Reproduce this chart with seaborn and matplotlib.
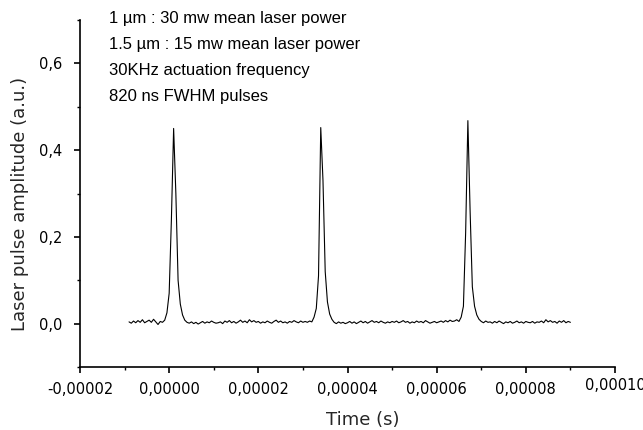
import numpy as np
import pandas as pd
import matplotlib
matplotlib.use("Agg")
import matplotlib.pyplot as plt
import matplotlib.transforms as mtransforms
from matplotlib.ticker import FuncFormatter, MultipleLocator
import seaborn as sns

# Sampling grid of the oscilloscope trace (microseconds): -9.0 .. 90.0, 0.5 us step
t_start_us = -9.0
t_step_us = 0.5

# Laser pulse amplitude (a.u.)
amp = [
    0.004, 0.001, 0.006, 0.002, 0.007, 0.003, 0.009, 0.002, 0.005, 0.008,
    0.003, 0.010, 0.004, -0.002, 0.005, 0.003, 0.008, 0.025, 0.070, 0.240,
    0.450, 0.300, 0.100, 0.045, 0.020, 0.008, 0.003, 0.001, 0.004, 0.000,
    0.003, -0.001, 0.002, 0.005, 0.001, 0.004, 0.002, 0.006, 0.003, 0.001,
    0.002, 0.004, 0.000, 0.006, 0.003, 0.007, 0.002, 0.005, 0.001, 0.004,
    0.008, 0.003, 0.006, 0.002, 0.009, 0.004, 0.007, 0.003, 0.005, 0.001,
    0.004, 0.002, 0.006, 0.003, 0.001, 0.005, 0.008, 0.003, 0.006, 0.002,
    0.004, 0.001, 0.005, 0.003, 0.007, 0.004, 0.002, 0.006, 0.003, 0.005,
    0.003, 0.006, 0.004, 0.015, 0.035, 0.110, 0.452, 0.330, 0.120, 0.050,
    0.022, 0.010, 0.003, 0.000, 0.004, 0.001, 0.003, 0.000, 0.002, 0.005,
    0.001, 0.004, 0.000, 0.003, 0.006, 0.002, 0.005, 0.001, 0.004, 0.007,
    0.003, 0.005, 0.002, 0.006, 0.003, 0.001, 0.004, 0.002, 0.005, 0.003,
    0.006, 0.002, 0.004, 0.007, 0.003, 0.005, 0.001, 0.004, 0.002, 0.006,
    0.003, 0.005, 0.002, 0.007, 0.004, 0.001, 0.003, 0.005, 0.002, 0.004,
    0.006, 0.003, 0.007, 0.004, 0.008, 0.005, 0.006, 0.009, 0.005, 0.015,
    0.040, 0.210, 0.468, 0.260, 0.085, 0.040, 0.020, 0.010, 0.005, 0.002,
    0.006, 0.003, 0.004, 0.001, 0.005, 0.002, 0.006, 0.003, 0.000, 0.004,
    0.002, 0.005, 0.001, 0.003, 0.006, 0.002, 0.004, 0.001, 0.005, 0.003,
    0.002, 0.005, 0.001, 0.004, 0.003, 0.006, 0.002, 0.009, 0.004, 0.007,
    0.003, 0.005, 0.001, 0.006, 0.003, 0.007, 0.002, 0.005, 0.003,
]

annotation_lines = [
    "1 \u00b5m : 30 mw mean laser power",
    "1.5 \u00b5m : 15 mw mean laser power",
    "30KHz actuation frequency",
    "820 ns FWHM pulses",
]
x_label = "Time (s)"
y_label = "Laser pulse amplitude (a.u.)"
x_ticks = [-0.00002, 0.0, 0.00002, 0.00004, 0.00006, 0.00008, 0.00010]
y_ticks = [0.0, 0.2, 0.4, 0.6]

time_s = (t_start_us + t_step_us * np.arange(len(amp))) * 1e-6
df = pd.DataFrame({"time": time_s, "amp": amp})

sns.set_style("ticks")
plt.rcParams["font.family"] = ["DejaVu Sans"]

W, H = 643, 430
fig = plt.figure(figsize=(W / 100, H / 100), dpi=100)
ax = fig.add_axes([80 / W, 1 - 367 / H, 535 / W, 347 / H])

sns.lineplot(data=df, x="time", y="amp", ax=ax, color="black", linewidth=0.8)

ax.set_xlim(-0.00002, 0.00010)
ax.set_ylim(-0.1, 0.7)
ax.set_xticks(x_ticks)
ax.set_yticks(y_ticks)
ax.xaxis.set_minor_locator(MultipleLocator(0.00001))
ax.yaxis.set_minor_locator(MultipleLocator(0.1))
ax.xaxis.set_major_formatter(FuncFormatter(lambda v, p: f"{v:.5f}".replace(".", ",").replace("-0,00000", "0,00000")))
ax.yaxis.set_major_formatter(FuncFormatter(lambda v, p: f"{v:.1f}".replace(".", ",")))

for s in ["top", "right"]:
    ax.spines[s].set_visible(False)
for s in ["left", "bottom"]:
    ax.spines[s].set_linewidth(1.2)
    ax.spines[s].set_color("black")

ax.tick_params(axis="both", which="major", direction="out", length=4, width=1.2,
               colors="black", labelsize=10.5)
ax.tick_params(axis="both", which="minor", direction="out", length=2.5, width=1.0, colors="black")
ax.tick_params(axis="y", which="major", pad=9)
ax.tick_params(axis="x", which="major", pad=7)

ax.set_xlabel(x_label, fontsize=13)
ax.set_ylabel(y_label, fontsize=13)
# label centres in pixel positions of the reference
ax.xaxis.set_label_coords((363 - 80) / 535, -(420 - 367) / 347)
ax.xaxis.label.set_va("center")
ax.yaxis.set_label_coords((20 - 80) / 535, (367 - 204) / 347)
ax.yaxis.label.set_va("center")

# the last x tick label sits slightly higher in the reference
fig.canvas.draw()
last = ax.get_xticklabels()[-1]
last.set_transform(last.get_transform() + mtransforms.ScaledTranslation(0, 3 / 72, fig.dpi_scale_trans))

for k, line in enumerate(annotation_lines):
    fig.text(109 / W, 1 - (19 + 26 * k) / H, line, fontsize=12, va="center", ha="left",
             color="black", family=["Liberation Sans", "DejaVu Sans"])

fig.savefig("out.png", dpi=100)
